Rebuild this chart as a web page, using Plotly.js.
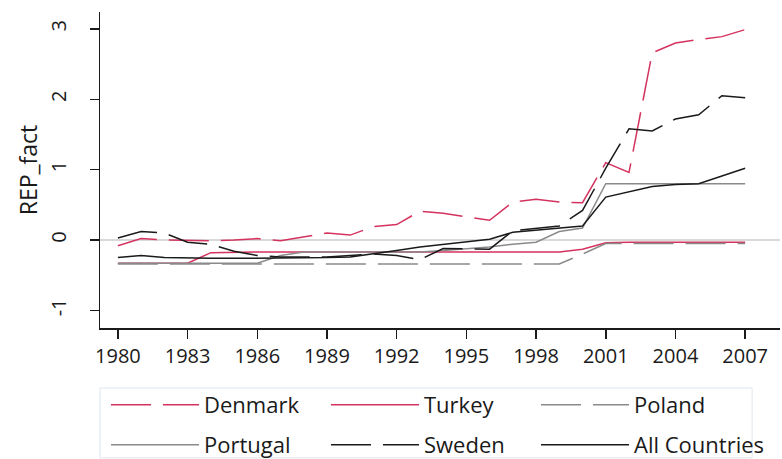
<!DOCTYPE html>
<html>
<head>
<meta charset="utf-8">
<script src="https://cdn.plot.ly/plotly-3.0.1.min.js"></script>
<style>
  html, body { margin: 0; padding: 0; background: #ffffff; }
  #chart { width: 782px; height: 459px; }
</style>
</head>
<body>
<div id="chart"></div>
<script>
const years = [1980,1981,1982,1983,1984,1985,1986,1987,1988,1989,1990,1991,1992,1993,
               1994,1995,1996,1997,1998,1999,2000,2001,2002,2003,2004,2005,2006,2007];

const denmark  = [-0.08,0.02,0.00,-0.01,-0.01,0.00,0.02,-0.01,0.04,0.10,0.07,0.19,0.22,0.41,
                  0.38,0.33,0.28,0.54,0.58,0.54,0.53,1.10,0.96,2.66,2.80,2.85,2.89,2.99];
const turkey   = [-0.33,-0.33,-0.33,-0.33,-0.18,-0.17,-0.17,-0.17,-0.17,-0.17,-0.17,-0.17,-0.17,-0.17,
                  -0.17,-0.17,-0.17,-0.17,-0.17,-0.17,-0.13,-0.04,-0.03,-0.03,-0.03,-0.03,-0.03,-0.03];
const poland   = [-0.34,-0.34,-0.34,-0.34,-0.34,-0.34,-0.34,-0.34,-0.34,-0.34,-0.34,-0.34,-0.34,-0.34,
                  -0.34,-0.34,-0.34,-0.34,-0.34,-0.34,-0.20,-0.05,-0.05,-0.05,-0.05,-0.05,-0.05,-0.05];
const portugal = [-0.33,-0.33,-0.33,-0.33,-0.33,-0.33,-0.33,-0.22,-0.17,-0.17,-0.17,-0.17,-0.17,-0.17,
                  -0.15,-0.13,-0.10,-0.06,-0.03,0.12,0.17,0.80,0.80,0.80,0.80,0.80,0.80,0.80];
const sweden   = [0.03,0.12,0.10,-0.03,-0.06,-0.16,-0.22,-0.24,-0.24,-0.24,-0.22,-0.20,-0.22,-0.28,
                  -0.12,-0.12,-0.13,0.13,0.16,0.20,0.42,1.02,1.58,1.55,1.72,1.78,2.05,2.02];
const allCountries = [-0.25,-0.22,-0.25,-0.26,-0.26,-0.26,-0.26,-0.26,-0.26,-0.25,-0.24,-0.20,-0.15,-0.10,
                  -0.06,-0.02,0.01,0.11,0.14,0.17,0.20,0.61,0.68,0.76,0.79,0.80,0.91,1.02];

const xTicks = [1980,1983,1986,1989,1992,1995,1998,2001,2004,2007];
const yTicks = [-1,0,1,2,3];

const RED = '#d4335e';
const GRAY = '#8a8a8a';
const BLACK = '#1a1a1a';
const DASH = '40px,12px';

function tr(name, y, color, dash, leg) {
  return { type: 'scatter', mode: 'lines', name: name, x: years, y: y, legend: leg,
           line: { color: color, width: 1.5, dash: dash } };
}

const traces = [
  tr('Denmark', denmark, RED, DASH, 'legend'),
  tr('Turkey', turkey, RED, 'solid', 'legend2'),
  tr('Poland', poland, GRAY, DASH, 'legend3'),
  tr('Portugal', portugal, GRAY, 'solid', 'legend4'),
  tr('Sweden', sweden, BLACK, DASH, 'legend5'),
  tr('All Countries', allCountries, BLACK, 'solid', 'legend6')
];

const FONT = 'Open Sans, Noto Sans, sans-serif';

// plot area: left 100px, width 680px; bottom 328px, height 316px
function legendAt(px, py) {
  return {
    orientation: 'h', x: (px - 100) / 680, xanchor: 'left',
    y: (328 - py) / 316, yanchor: 'middle',
    itemwidth: 88, borderwidth: 0, bgcolor: 'rgba(0,0,0,0)',
    font: { family: FONT, size: 22, color: '#1a1a1a' }
  };
}

const layout = {
  width: 782, height: 459,
  margin: { l: 100, r: 2, t: 12, b: 131, autoexpand: false },
  paper_bgcolor: '#ffffff', plot_bgcolor: '#ffffff',
  font: { family: FONT, size: 20, color: '#1a1a1a' },
  showlegend: true,
  xaxis: {
    range: [1979.23, 2008.5], tickvals: xTicks, ticktext: xTicks.map(String),
    showgrid: false, zeroline: false, showline: true, linecolor: '#1a1a1a', linewidth: 1.5,
    ticks: 'outside', ticklen: 9, tickwidth: 1.5, tickcolor: '#1a1a1a',
    tickfont: { family: FONT, size: 20 }
  },
  yaxis: {
    range: [-1.25, 3.24], tickvals: yTicks, ticktext: yTicks.map(String),
    showgrid: false, zeroline: true, zerolinecolor: '#d9d9d9', zerolinewidth: 2,
    showline: true, linecolor: '#1a1a1a', linewidth: 1.5,
    ticks: 'outside', ticklen: 9, tickwidth: 1.5, tickcolor: '#1a1a1a',
    tickangle: -90, ticklabelstandoff: 16, tickfont: { family: FONT, size: 20 },
    title: { text: 'REP_fact', font: { family: FONT, size: 23 }, standoff: 0 }
  },
  legend:  legendAt(106, 405),
  legend2: legendAt(326, 405),
  legend3: legendAt(536, 405),
  legend4: legendAt(106, 445),
  legend5: legendAt(326, 445),
  legend6: legendAt(536, 445),
  shapes: [{
    type: 'rect', xref: 'paper', yref: 'paper',
    x0: 0, x1: 0.959, y0: -0.411, y1: -0.19,
    line: { color: '#dfe6ee', width: 1 }, fillcolor: 'rgba(0,0,0,0)', layer: 'below'
  }]
};

Plotly.newPlot('chart', traces, layout, { displayModeBar: false, staticPlot: true });
</script>
</body>
</html>
